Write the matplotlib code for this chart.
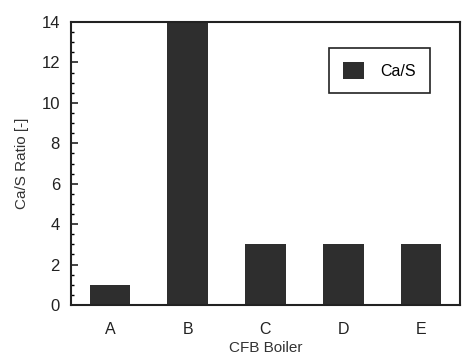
import matplotlib.pyplot as plt
from matplotlib.ticker import MultipleLocator

# Ca/S ratio per boiler
boilers = ['A', 'B', 'C', 'D', 'E']
ca_s = [1, 14, 3, 3, 3]

plt.rcParams['font.family'] = ['Liberation Sans', 'DejaVu Sans']

fig = plt.figure(figsize=(4.63, 3.61), dpi=100)
ax = fig.add_axes([71 / 463, 56 / 361, 389 / 463, 283 / 361])

ax.bar(range(len(boilers)), ca_s, width=0.52, color='#2e2e2e', label='Ca/S')

ax.set_xlim(-0.5, 4.5)
ax.set_ylim(0, 14)
ax.set_xticks(range(len(boilers)))
ax.set_xticklabels(boilers)
ax.yaxis.set_major_locator(MultipleLocator(2))
ax.yaxis.set_minor_locator(MultipleLocator(0.5))
ax.tick_params(axis='y', which='major', direction='in', length=5, width=1.2,
               labelsize=12, pad=8, colors='#222222')
ax.tick_params(axis='y', which='minor', direction='in', length=2.5, width=1)
ax.tick_params(axis='x', length=0, labelsize=11.5, pad=12, colors='#222222')
for s in ax.spines.values():
    s.set_linewidth(1.5)
    s.set_color('#222222')

ax.set_xlabel('CFB Boiler', fontsize=11, color='#333333', labelpad=3)
ax.set_ylabel('Ca/S Ratio [-]', fontsize=11, color='#333333', labelpad=9)

leg = ax.legend(loc='upper right', bbox_to_anchor=(0.923, 0.908), fontsize=11.5,
                fancybox=False, edgecolor='#222222', framealpha=1,
                handlelength=1.3, handleheight=1.2, borderpad=0.9,
                handletextpad=1.0, borderaxespad=0)
leg.get_frame().set_linewidth(1.2)

plt.savefig('out.png', dpi=100)
